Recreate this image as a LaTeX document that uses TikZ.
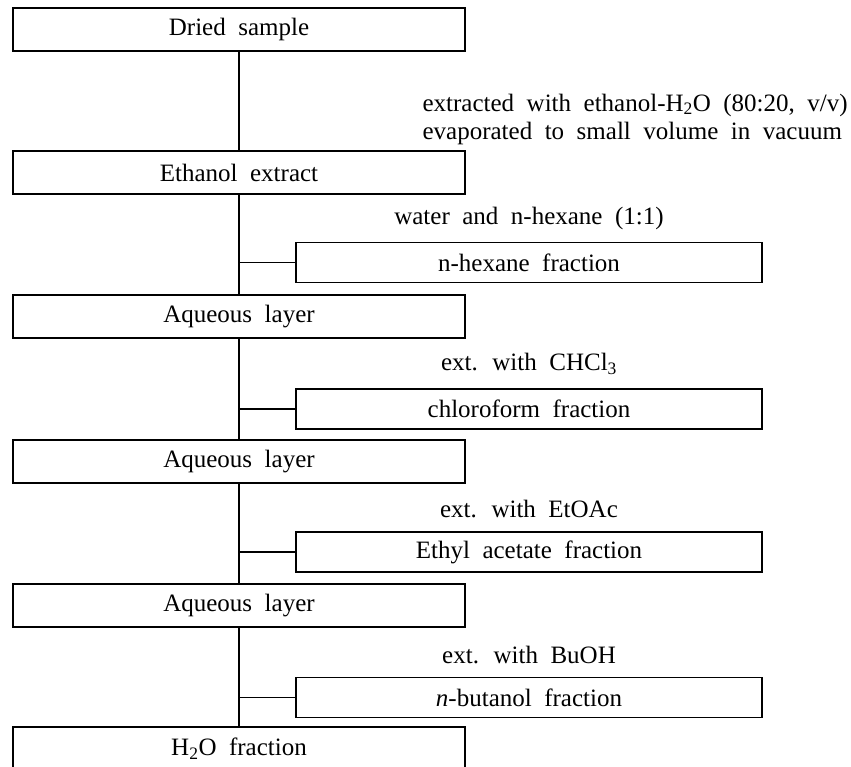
\documentclass[tikz,border=0pt]{standalone}
\usepackage{fontspec}
\setmainfont{Liberation Serif}
\newcommand{\flowfont}{\fontsize{25}{29}\selectfont\spaceskip=0.5em plus 0.1em}
\newcommand{\notefont}{\fontsize{25}{28}\selectfont\spaceskip=0.5em plus 0.1em}

\begin{document}
\begin{tikzpicture}[x=1pt,y=-1pt,line width=1.2pt,
  mainbox/.style={draw,minimum width=452pt,minimum height=43pt,inner sep=0pt,font=\flowfont},
  sidebox/.style={draw,minimum width=466pt,minimum height=40pt,inner sep=0pt,font=\flowfont},
  steptext/.style={inner sep=0pt,font=\flowfont}]
  \useasboundingbox (0,0) rectangle (851,766);
  % main column
  \node[mainbox] (dried) at (239,29.5) {Dried sample};
  \node[mainbox] (ethanol) at (239,172.5) {Ethanol extract};
  \node[mainbox] (aqone) at (239,316.5) {Aqueous layer};
  \node[mainbox] (aqtwo) at (239,461.5) {Aqueous layer};
  \node[mainbox] (aqthree) at (239,605.5) {Aqueous layer};
  \node[mainbox] (water) at (239,748.5) {H\textsubscript{2}O fraction};
  % fractions on the right
  \node[sidebox] (hexane) at (529,262.5) {n-hexane fraction};
  \node[sidebox] (chloro) at (529,409) {chloroform fraction};
  \node[sidebox] (ethyl) at (529,552) {Ethyl acetate fraction};
  \node[sidebox] (butanol) at (529,697.5) {\textit{n}-butanol fraction};
  % step labels
  \node[steptext,font=\notefont,align=left,anchor=west] (extr) at (422,119)
    {extracted with ethanol-H\textsubscript{2}O (80:20, v/v)\\evaporated to small volume in vacuum};
  \node[steptext] (hexlab) at (529,218) {water and n-hexane (1:1)};
  \node[steptext] (chlab) at (529,364) {ext. with CHCl\textsubscript{3}};
  \node[steptext] (ealab) at (529,509) {ext. with EtOAc};
  \node[steptext] (bulab) at (529,655) {ext. with BuOH};
  % trunk
  \draw (dried) -- (ethanol);
  \draw (ethanol) -- (aqone);
  \draw (aqone) -- (aqtwo);
  \draw (aqtwo) -- (aqthree);
  \draw (aqthree) -- (water);
  % branches
  \draw (hexane.west) -- (hexane.west -| ethanol.south);
  \draw (chloro.west) -- (chloro.west -| aqone.south);
  \draw (ethyl.west) -- (ethyl.west -| aqtwo.south);
  \draw (butanol.west) -- (butanol.west -| aqthree.south);
\end{tikzpicture}
\end{document}
